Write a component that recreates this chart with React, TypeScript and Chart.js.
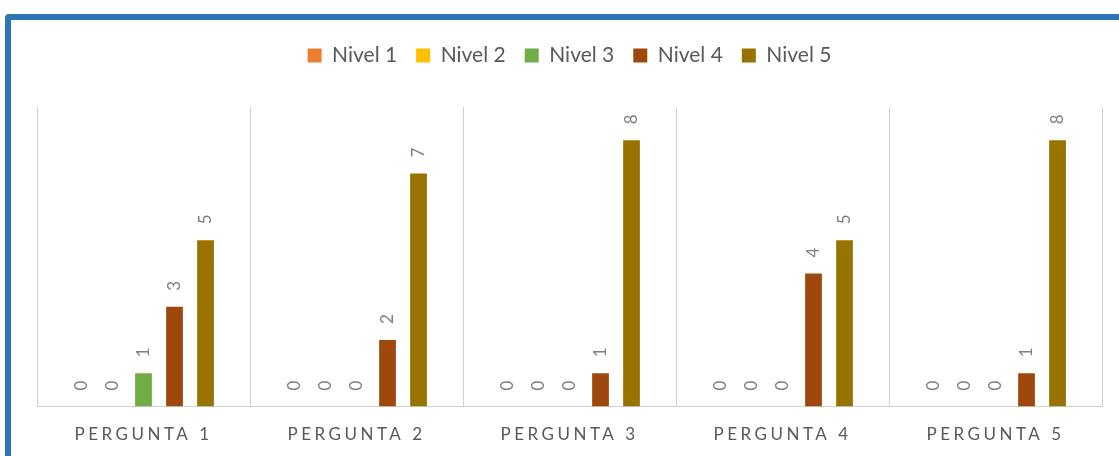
import React, { useEffect, useRef } from 'react';
import { Chart, registerables } from 'chart.js';

Chart.register(...registerables);

const categories = ['PERGUNTA 1', 'PERGUNTA 2', 'PERGUNTA 3', 'PERGUNTA 4', 'PERGUNTA 5'];
const seriesNames = ['Nivel 1', 'Nivel 2', 'Nivel 3', 'Nivel 4', 'Nivel 5'];
const nivel1 = [0, 0, 0, 0, 0];
const nivel2 = [0, 0, 0, 0, 0];
const nivel3 = [1, 0, 0, 0, 0];
const nivel4 = [3, 2, 1, 4, 1];
const nivel5 = [5, 7, 8, 5, 8];
const seriesColors = ['#ED7D31', '#FFC000', '#70AD47', '#9E480E', '#997300'];
const yMin = 0;
const yMax = 9;

const FONT = 'Lato, "Open Sans", sans-serif';

const tweaks = {
  id: 'tweaks',
  beforeLayout(chart: any) {
    const lg = chart.legend;
    if (lg && !lg.__patched) {
      const fit = lg.fit.bind(lg);
      lg.fit = () => {
        fit();
        lg.height += 31;
      };
      lg.__patched = true;
    }
  },
  afterLayout(chart: any) {
    const sx = chart.scales.x;
    if (sx && !sx.__patched) {
      const dl = sx.drawLabels.bind(sx);
      sx.drawLabels = (area: any) => {
        const c = chart.ctx;
        c.save();
        (c as any).letterSpacing = '3.5px';
        dl(area);
        c.restore();
      };
      sx.__patched = true;
    }
  },
  afterDatasetsDraw(chart: any) {
    const ctx = chart.ctx;
    chart.data.datasets.forEach((ds: any, di: number) => {
      const meta = chart.getDatasetMeta(di);
      meta.data.forEach((el: any, i: number) => {
        const v = ds.data[i];
        ctx.save();
        ctx.translate(el.x, el.y - 16);
        ctx.rotate(-Math.PI / 2);
        ctx.font = `17px ${FONT}`;
        ctx.fillStyle = '#7F7F7F';
        ctx.textAlign = 'left';
        ctx.textBaseline = 'middle';
        ctx.fillText(String(v), 0, 0);
        ctx.restore();
      });
    });
  },
};

export default function App() {
  const ref = useRef<HTMLCanvasElement>(null);

  useEffect(() => {
    if (!ref.current) return;
    const series = [nivel1, nivel2, nivel3, nivel4, nivel5];
    const chart = new Chart(ref.current, {
      type: 'bar',
      data: {
        labels: categories,
        datasets: series.map((d, i) => ({
          label: seriesNames[i],
          data: d,
          backgroundColor: seriesColors[i],
          borderWidth: 0,
          categoryPercentage: 0.728,
          barPercentage: 0.54,
        })),
      },
      options: {
        responsive: false,
        animation: false,
        devicePixelRatio: 1,
        layout: { padding: { top: 26, left: 37, right: 17, bottom: 12 } },
        plugins: {
          legend: {
            position: 'top',
            labels: {
              boxWidth: 14,
              boxHeight: 14,
              padding: 19,
              color: '#595959',
              font: { family: FONT, size: 21 },
            },
          },
          tooltip: { enabled: false },
        },
        scales: {
          x: {
            grid: { display: true, color: '#D0D0D0', lineWidth: 1, drawTicks: false, offset: true },
            border: { display: true, color: '#D0D0D0', width: 1 },
            ticks: { color: '#595959', font: { family: FONT, size: 17 }, padding: 18, maxRotation: 0 },
          },
          y: {
            display: false,
            min: yMin,
            max: yMax,
          },
        },
      },
      plugins: [tweaks],
    });
    return () => chart.destroy();
  }, []);

  return (
    <div style={{ position: 'fixed', left: 0, top: 0, width: 1119, height: 456, overflow: 'hidden', background: '#fff' }}>
      <div
        style={{
          position: 'absolute',
          left: 5,
          top: 14,
          width: 1300,
          height: 700,
          border: '6px solid #2E75B6',
          borderRadius: 4,
          boxSizing: 'border-box',
        }}
      />
      <canvas ref={ref} width={1119} height={475} style={{ position: 'absolute', left: 0, top: 0 }} />
    </div>
  );
}
